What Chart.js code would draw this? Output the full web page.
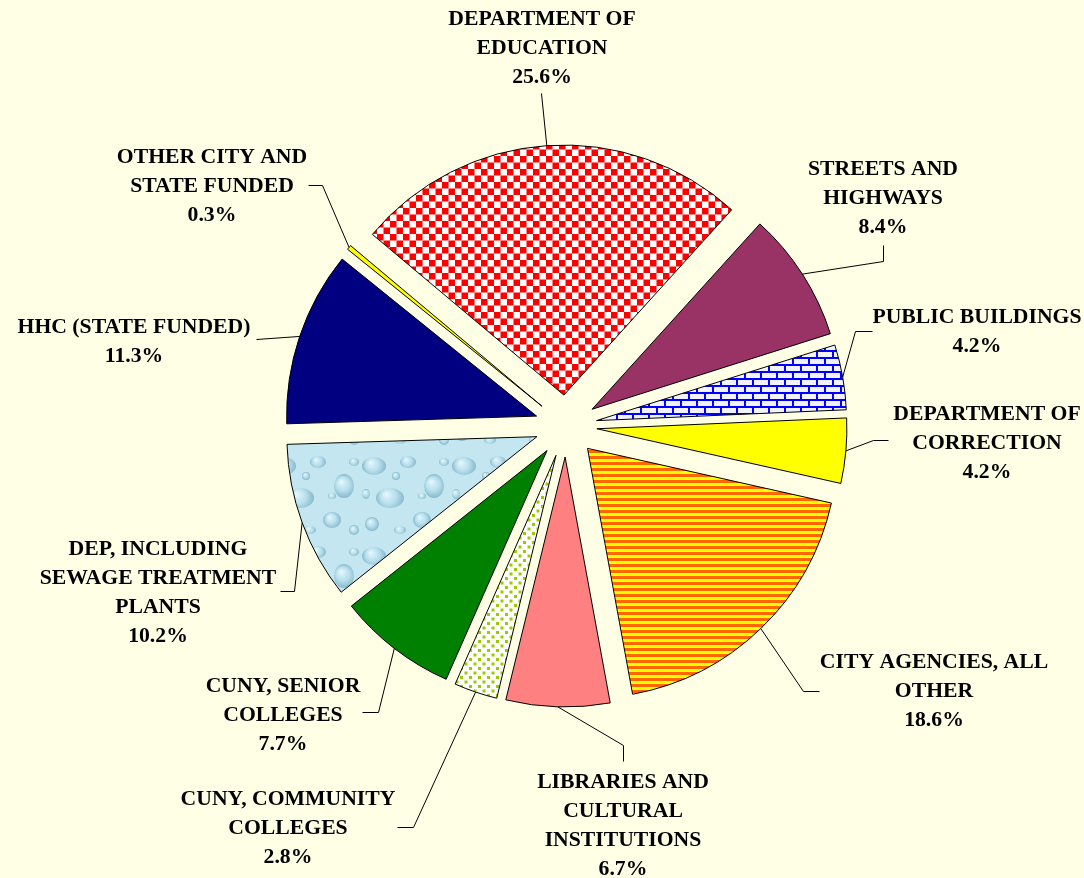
<!DOCTYPE html>
<html>
<head>
<meta charset="utf-8">
<script src="https://cdn.jsdelivr.net/npm/chart.js@4.4.0/dist/chart.umd.min.js"></script>
<style>
  html, body { margin: 0; padding: 0; background: #FFFFE6; }
  canvas { display: block; }
</style>
</head>
<body>
<canvas id="capitalChart" width="1084" height="878"></canvas>
<script>
// categories, clockwise from the top-left edge of the Education slice
const categories = [
  ['DEPARTMENT OF', 'EDUCATION'],
  ['STREETS AND', 'HIGHWAYS'],
  ['PUBLIC BUILDINGS'],
  ['DEPARTMENT OF', 'CORRECTION'],
  ['CITY AGENCIES, ALL', 'OTHER'],
  ['LIBRARIES AND', 'CULTURAL', 'INSTITUTIONS'],
  ['CUNY, COMMUNITY', 'COLLEGES'],
  ['CUNY, SENIOR', 'COLLEGES'],
  ['DEP, INCLUDING', 'SEWAGE TREATMENT', 'PLANTS'],
  ['HHC (STATE FUNDED)'],
  ['OTHER CITY AND', 'STATE FUNDED']
];
const shares = [25.6, 8.4, 4.2, 4.2, 18.6, 6.7, 2.8, 7.7, 10.2, 11.3, 0.3];

// label layout: block centre x and first baseline y
const labelAt = [
  [542, 25], [883, 175], [977, 323], [987, 420], [934, 668], [623, 788],
  [288, 805], [283, 692], [158, 555], [134, 333], [212, 163]
];
// leader line points from the label end towards the slice
const leaders = [
  [[541, 93]],
  [[883, 245], [883, 261]],
  [[872, 331], [855, 331]],
  [[888, 440], [873, 440]],
  [[819, 691], [803, 691]],
  [[623, 761], [623, 745]],
  [[397, 827], [413, 827]],
  [[362, 712], [378, 712]],
  [[280, 591], [294, 591]],
  [[256, 339]],
  [[308, 185], [322, 185]]
];
const EXPLODE = 31;
const LINE_H = 29;

const canvas = document.getElementById('capitalChart');
const ctx = canvas.getContext('2d');

function tile(w, h, draw) {
  const c = document.createElement('canvas');
  c.width = w; c.height = h;
  draw(c.getContext('2d'));
  return ctx.createPattern(c, 'repeat');
}

const checker = tile(13, 13, g => {
  g.fillStyle = '#fff'; g.fillRect(0, 0, 13, 13);
  g.fillStyle = '#FF0000';
  g.fillRect(0, 0, 6.5, 6.5); g.fillRect(6.5, 6.5, 6.5, 6.5);
});

const brick = tile(16, 14, g => {
  g.fillStyle = '#F2F2FF'; g.fillRect(0, 0, 16, 14);
  g.fillStyle = '#0000FF';
  g.fillRect(0, 0, 16, 2); g.fillRect(0, 7, 16, 2);
  g.fillRect(0, 0, 2, 7); g.fillRect(8, 7, 2, 7);
});

const stripes = tile(4, 6, g => {
  g.fillStyle = '#FFFF00'; g.fillRect(0, 0, 4, 6);
  g.fillStyle = '#FF6600'; g.fillRect(0, 0, 4, 3);
});

const dots = tile(9, 9, g => {
  g.fillStyle = '#fff'; g.fillRect(0, 0, 9, 9);
  g.fillStyle = '#99CC00';
  g.fillRect(1, 1, 3, 3); g.fillRect(5.5, 5.5, 3, 3);
});

const water = tile(90, 90, g => {
  g.fillStyle = '#C3E6F0'; g.fillRect(0, 0, 90, 90);
  const drops = [[14, 16, 12, 9], [48, 12, 8, 6], [74, 36, 10, 12], [30, 48, 14, 10], [62, 70, 9, 8],
                 [12, 74, 7, 7], [40, 80, 6, 4], [84, 80, 5, 5], [36, 26, 4, 4], [62, 46, 4, 3],
                 [84, 12, 5, 4], [6, 44, 4, 5]];
  drops.forEach(([x, y, rx, ry]) => {
    const rg = g.createRadialGradient(x - rx * 0.3, y - ry * 0.4, 0, x, y, Math.max(rx, ry));
    rg.addColorStop(0, 'rgba(240,252,255,0.9)');
    rg.addColorStop(0.55, 'rgba(180,222,236,0.7)');
    rg.addColorStop(1, 'rgba(110,165,188,0.7)');
    g.fillStyle = rg;
    g.beginPath(); g.ellipse(x, y, rx, ry, 0, 0, Math.PI * 2); g.fill();
  });
});

const fills = [checker, '#993366', brick, '#FFFF00', stripes, '#FF8080',
               dots, '#008000', water, '#000080', '#FFFF00'];

const background = {
  id: 'background',
  beforeDraw(chart) {
    const c = chart.ctx;
    c.save();
    c.fillStyle = '#FFFFE6';
    c.fillRect(0, 0, chart.width, chart.height);
    c.restore();
  }
};

// pull every slice out from the centre along its middle angle
const explode = {
  id: 'explode',
  beforeDatasetsDraw(chart) {
    const a = chart.chartArea;
    const cx = (a.left + a.right) / 2;
    const cy = (a.top + a.bottom) / 2;
    chart.getDatasetMeta(0).data.forEach(arc => {
      const mid = (arc.startAngle + arc.endAngle) / 2;
      arc.x = cx + EXPLODE * Math.cos(mid);
      arc.y = cy + EXPLODE * Math.sin(mid);
    });
  }
};

const sliceLabels = {
  id: 'sliceLabels',
  afterDatasetsDraw(chart) {
    const c = chart.ctx;
    const arcs = chart.getDatasetMeta(0).data;
    c.save();
    c.strokeStyle = '#000';
    c.lineWidth = 1;
    c.fillStyle = '#000';
    c.font = 'bold 21.7px "Liberation Serif", "Times New Roman", serif';
    c.textAlign = 'center';
    c.textBaseline = 'alphabetic';
    arcs.forEach((arc, i) => {
      const mid = (arc.startAngle + arc.endAngle) / 2;
      const ex = arc.x + arc.outerRadius * Math.cos(mid);
      const ey = arc.y + arc.outerRadius * Math.sin(mid);
      c.beginPath();
      leaders[i].forEach((p, k) => {
        if (k === 0) c.moveTo(p[0] + 0.5, p[1] + 0.5);
        else c.lineTo(p[0] + 0.5, p[1] + 0.5);
      });
      c.lineTo(ex, ey);
      c.stroke();

      const lines = categories[i].concat([shares[i].toFixed(1) + '%']);
      lines.forEach((t, k) => c.fillText(t, labelAt[i][0], labelAt[i][1] + k * LINE_H));
    });
    c.restore();
  }
};

new Chart(ctx, {
  type: 'pie',
  data: {
    labels: categories,
    datasets: [{
      data: shares,
      backgroundColor: fills,
      borderColor: '#000000',
      borderWidth: 1,
      borderJoinStyle: 'miter'
    }]
  },
  options: {
    responsive: false,
    animation: false,
    events: [],
    rotation: -50,
    radius: 250,
    layout: { padding: { left: 48, right: 0, top: 0, bottom: 26 } },
    plugins: {
      legend: { display: false },
      tooltip: { enabled: false }
    }
  },
  plugins: [background, explode, sliceLabels]
});
</script>
</body>
</html>
